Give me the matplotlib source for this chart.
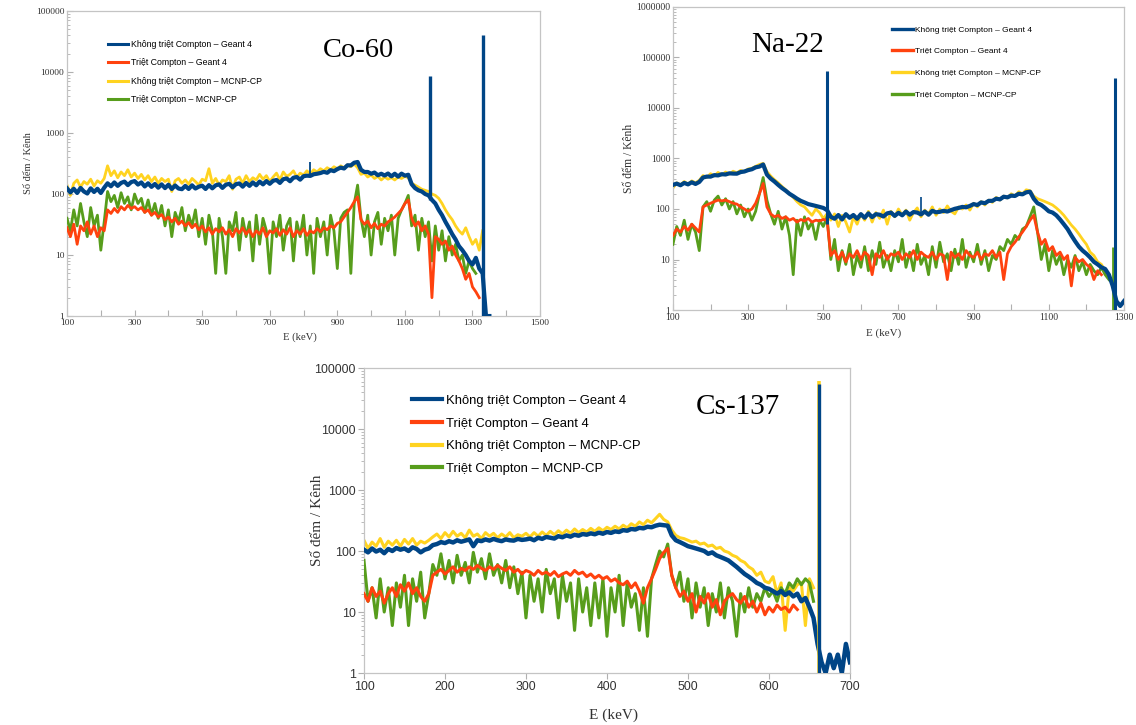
import numpy as np
import matplotlib
matplotlib.use("Agg")
import matplotlib.pyplot as plt
from matplotlib.lines import Line2D
from matplotlib.ticker import FixedLocator, FuncFormatter, NullFormatter, LogLocator

nan = float("nan")

# ---------------- Co-60 (E = 100 ... 1350 keV, step 10) ----------------
co_E = np.arange(100, 1351, 10)
co_blue = [124,106,122,104,126,110,102,124,108,122,
           104,127,150,134,155,136,152,160,140,157,
           163,143,155,133,150,131,146,127,144,125,
           142,121,138,123,120,136,121,139,123,132,
           137,121,140,124,139,144,126,142,147,129,
           145,149,132,152,136,155,139,160,144,163,
           147,165,170,152,175,180,162,185,190,172,
           196,200,198,211,215,221,231,223,246,237,
           256,271,262,296,295,326,335,250,230,230,
           215,225,203,215,201,217,195,215,193,216,
           200,207,145,125,115,110,100,95,80,70,
           55,45,35,28,22,18,14,12,10,8,
           7,9,6,5,1,1]
co_yellow = [140,95,150,170,130,160,145,175,135,165,
             150,180,290,200,240,185,230,200,250,190,
             220,180,210,170,200,160,190,150,180,160,
             175,110,165,180,150,170,145,180,160,140,
             175,165,260,150,180,140,170,160,200,120,
             175,190,150,200,160,185,170,210,175,200,
             160,190,220,170,230,195,210,240,190,220,
             205,240,210,250,230,260,240,270,250,280,
             260,290,270,300,280,310,270,210,220,190,
             205,180,195,170,190,175,185,170,190,180,
             195,185,150,140,130,120,115,110,100,95,
             85,70,55,45,38,30,25,22,28,20,
             15,18,12,25,nan,nan]
co_green = [40,25,55,30,70,35,20,60,30,45,
            12,35,110,75,95,60,105,70,90,55,
            100,70,85,50,80,45,70,40,65,30,
            55,20,50,35,60,25,45,30,55,20,
            40,15,45,25,5,40,20,5,35,25,
            50,12,40,20,35,8,45,15,40,25,
            5,35,20,45,12,30,40,8,35,20,
            45,10,30,5,40,20,35,10,45,25,
            6,40,50,55,5,70,140,40,20,45,
            10,35,50,15,40,25,45,10,40,55,
            70,95,30,45,12,40,20,35,8,30,
            12,25,8,20,10,15,8,10,5,8,
            6,5,nan,nan,nan,nan]
co_red = [28,20,32,15,30,25,35,22,30,20,
          28,25,55,48,58,50,62,55,65,58,
          62,55,60,50,55,45,50,42,46,38,
          42,35,40,32,36,30,34,28,32,26,
          30,24,28,22,27,24,28,22,26,20,
          27,23,28,22,26,20,25,22,28,20,
          25,23,27,21,26,22,28,20,25,22,
          27,21,25,23,27,24,28,26,30,28,
          33,35,42,50,60,75,90,38,32,36,
          28,33,27,32,30,35,38,42,48,55,
          70,80,40,30,35,25,30,22,2,20,
          18,15,17,12,14,10,8,6,4,5,
          3,2.5,2,nan,nan,nan]
co_peak_E = [1173, 1332]
co_peak_base = [80, 1]
co_peak_top = [8500, 40000]
co_small_peak_E = [820]
co_small_peak_base = [195]
co_small_peak_top = [330]

# ---------------- Na-22 (E = 100 ... 1300 keV, step 10) ----------------
na_E = np.arange(100, 1301, 10)
na_blue = [300,318,295,328,307,338,313,343,420,438,
           437,468,462,488,482,508,502,500,538,552,
           588,612,668,692,760,480,400,350,300,260,
           230,200,180,160,145,135,125,120,115,110,
           105,95,70,64,76,62,79,67,76,64,
           79,67,82,69,79,77,71,82,85,73,
           84,75,89,77,87,85,78,89,77,92,
           86,88,92,89,95,101,105,110,108,115,
           125,120,135,130,145,145,160,155,175,170,
           184,181,200,195,214,220,160,130,120,105,
           90,85,75,62,50,40,30,23,18,15,
           13,11,9,8,7,6.5,5,3,1.5,1.2,
           1.5]
na_yellow = [260,330,300,350,310,360,330,370,460,420,
             500,450,530,470,540,490,560,520,580,550,
             620,640,700,760,800,550,450,380,330,280,
             240,200,170,140,120,110,90,75,100,85,
             65,80,60,80,45,75,55,35,70,50,
             80,60,90,55,85,65,95,50,90,70,
             100,75,95,60,85,105,70,95,80,110,
             75,100,85,115,90,80,110,100,120,95,
             130,110,140,120,150,135,170,150,180,165,
             200,180,220,200,240,230,180,160,150,140,
             130,120,105,90,75,60,48,40,32,25,
             20,14,12,9,8,6,5,nan,nan,nan,
             nan]
na_green = [20,45,30,60,25,50,35,15,110,140,
            90,150,180,120,160,100,140,80,120,70,
            100,60,90,200,420,150,80,50,90,40,
            70,30,5,60,30,70,40,55,25,60,
            45,70,10,25,6,15,8,20,5,12,
            7,18,6,15,8,22,7,12,6,15,
            9,25,7,14,6,20,8,12,5,18,
            7,22,9,13,6,16,8,25,7,14,
            9,20,8,15,6,12,10,18,15,25,
            20,30,25,40,45,70,110,35,10,20,
            6,15,8,12,5,10,7,12,6,9,
            5,8,6,5,7,5,4,nan,nan,nan,
            nan]
na_red = [30,40,35,45,38,50,42,35,110,120,
          130,140,150,145,150,140,130,125,110,100,
          90,100,130,200,320,110,80,70,75,65,
          70,60,65,55,62,58,65,55,60,58,
          62,60,12,15,10,14,9,13,11,15,
          10,14,12,5,13,11,15,10,13,12,
          14,10,13,11,15,10,14,12,11,14,
          10,13,12,4,14,11,13,10,15,12,
          11,14,10,13,12,15,11,14,4,13,
          18,22,28,35,45,60,75,35,20,25,
          15,18,12,14,10,12,3,11,9,10,
          8,7,4,6,5,nan,nan,nan,nan,nan,
          nan]
na_peak_E = [511, 1275]
na_peak_base = [50, 1]
na_peak_top = [55000, 40000]
na_small_peak_E = [760]
na_small_peak_base = [85]
na_small_peak_top = [170]
na_green_peak_E = [1272]
na_green_peak_base = [1]
na_green_peak_top = [18]

# ---------------- Cs-137 (E = 100 ... 700 keV, step 5) ----------------
cs_E = np.arange(100, 701, 5)
cs_blue = [105,95,110,98,105,92,108,100,112,105,
           110,100,115,108,95,105,110,125,130,140,
           135,145,138,150,142,148,155,120,150,145,
           155,148,158,150,145,155,150,148,158,152,
           155,160,150,165,158,170,165,160,175,168,
           180,172,185,178,190,185,195,188,200,192,
           205,198,210,205,220,215,230,225,240,235,
           250,245,260,270,265,260,180,150,140,130,
           120,115,110,105,100,90,95,85,80,75,
           70,62,55,48,42,38,34,30,28,25,
           24,22,20,22,19,21,18,20,15,17,
           12,8,3,1.5,1,2,1.2,2,1,3,
           1.5]
cs_yellow = [150,110,140,120,160,115,145,125,150,120,
             155,130,160,125,145,135,150,170,190,160,
             200,170,210,175,195,165,220,175,190,160,
             200,175,195,165,190,170,200,165,185,175,
             195,170,200,175,205,180,210,185,215,190,
             220,195,230,200,225,205,235,210,240,215,
             245,225,255,230,265,240,280,255,300,270,
             320,290,340,400,330,300,220,180,165,160,
             150,140,145,130,135,120,125,110,115,100,
             95,85,80,70,65,55,50,40,45,32,
             30,38,20,30,5,25,22,28,30,6,
             35,25,nan,nan,nan,nan,nan,nan,nan,nan,
             nan]
cs_green = [70,15,25,8,35,10,25,6,30,12,
            40,6,35,15,45,8,20,60,40,90,
            35,70,30,85,40,65,30,95,45,75,
            35,90,40,60,30,70,25,55,20,45,
            8,40,15,35,10,50,20,35,8,40,
            15,30,5,35,10,25,6,30,8,35,
            4,25,10,40,6,30,12,20,5,25,
            4,35,60,100,80,130,40,25,45,15,
            35,8,30,12,25,6,20,10,30,8,
            25,15,4,20,10,25,12,20,15,25,
            18,22,15,25,20,30,25,35,28,35,
            30,15,nan,nan,nan,nan,nan,nan,nan,nan,
            nan]
cs_red = [20,15,25,18,22,14,20,25,18,28,
          22,30,20,25,18,15,20,40,45,50,
          42,48,55,45,52,48,55,50,58,52,
          48,55,50,58,52,48,55,45,50,42,
          48,45,40,48,42,45,40,46,38,42,
          45,40,48,42,45,38,42,36,40,35,
          38,32,35,30,28,32,25,30,22,14,
          25,35,50,75,95,110,40,25,18,22,
          15,20,10,18,14,20,12,16,9,15,
          18,20,16,14,18,12,15,10,14,9,
          12,10,13,11,12,10,13,11,nan,nan,
          nan,nan,nan,nan,nan,nan,nan,nan,nan,nan,
          nan]
cs_peak_E = [662]
cs_peak_base = [1]
cs_peak_top = [55000]
cs_yellow_peak_top = [62000]

legend_labels = ["Không triệt Compton – Geant 4", "Triệt Compton – Geant 4",
                 "Không triệt Compton – MCNP-CP", "Triệt Compton – MCNP-CP"]

BLUE = "#004586"
RED = "#ff420e"
YELLOW = "#ffd320"
GREEN = "#579d1c"
SERIF = ["Liberation Serif", "DejaVu Serif"]
SANS = ["Liberation Sans", "DejaVu Sans"]

fig = plt.figure(figsize=(11.36, 7.25), dpi=100)


def make_axes(rect, xlim, ylim, xmajor, xlabels_at, tick_font, tick_size, tick_dir):
    ax = fig.add_axes(rect)
    ax.set_yscale("log")
    ax.set_xlim(*xlim)
    ax.set_ylim(*ylim)
    for s in ax.spines.values():
        s.set_color("#c4c4c4")
        s.set_linewidth(0.9)
    ax.xaxis.set_major_locator(FixedLocator(xmajor))
    ax.xaxis.set_major_formatter(FuncFormatter(
        lambda v, p: ("%d" % v) if int(round(v)) in xlabels_at else ""))
    ax.yaxis.set_major_locator(LogLocator(base=10, numticks=12))
    ax.yaxis.set_minor_locator(LogLocator(base=10, subs=np.arange(2, 10), numticks=12))
    ax.yaxis.set_minor_formatter(NullFormatter())
    ax.yaxis.set_major_formatter(FuncFormatter(lambda v, p: "%d" % round(v)))
    ax.tick_params(axis="both", which="both", direction=tick_dir, color="#b0b0b0",
                   labelcolor="#333333", labelsize=tick_size, pad=2)
    ax.tick_params(axis="both", which="major", length=4)
    ax.tick_params(axis="both", which="minor", length=2.5)
    for lab in ax.get_xticklabels() + ax.get_yticklabels():
        lab.set_family(tick_font)
    return ax


def draw_series(ax, E, b, r, y, g, lw, blw):
    ax.plot(E, y, color=YELLOW, lw=lw, zorder=2)
    ax.plot(E, g, color=GREEN, lw=lw, zorder=3)
    ax.plot(E, r, color=RED, lw=lw, zorder=4)
    ax.plot(E, b, color=BLUE, lw=blw, zorder=5)


def add_legend(ax, anchor, size, spacing, hl, lw):
    handles = [Line2D([], [], color=c, lw=lw) for c in (BLUE, RED, YELLOW, GREEN)]
    ax.legend(handles, legend_labels, loc="upper left", bbox_to_anchor=anchor,
              frameon=False, prop={"family": SANS, "size": size},
              labelspacing=spacing, handlelength=hl, handletextpad=0.3,
              borderpad=0, borderaxespad=0)


def axis_labels(ax, ysize, ypos, xsize, xpos):
    ax.set_ylabel("Số đếm / Kênh", family=SERIF, fontsize=ysize, color="#333333")
    ax.set_xlabel("E (keV)", family=SERIF, fontsize=xsize, color="#333333")
    ax.yaxis.set_label_coords(*ypos)
    ax.yaxis.label.set_va("center")
    ax.xaxis.set_label_coords(*xpos)
    ax.xaxis.label.set_va("center")


# ---- Co-60 ----
ax1 = make_axes([0.059, 0.5641, 0.4164, 0.4207], (100, 1500), (1, 1e5),
                list(range(100, 1501, 100)), list(range(100, 1501, 200)),
                SERIF, 6.8, "in")
draw_series(ax1, co_E, co_blue, co_red, co_yellow, co_green, 2.0, 3.0)
ax1.vlines(co_peak_E, co_peak_base, co_peak_top, color=BLUE, lw=2.4, zorder=6)
ax1.vlines(co_small_peak_E, co_small_peak_base, co_small_peak_top, color=BLUE, lw=1.3, zorder=6)
add_legend(ax1, (0.087, 0.905), 6.3, 1.07, 2.3, 2.2)
ax1.text(0.617, 0.869, "Co-60", transform=ax1.transAxes, ha="center", va="center",
         family=SERIF, fontsize=20.5)
axis_labels(ax1, 7.5, (-0.082, 0.5), 7.7, (0.493, -0.069))

# ---- Na-22 ----
ax2 = make_axes([0.5924, 0.5724, 0.397, 0.418], (100, 1300), (1, 1e6),
                list(range(100, 1301, 100)), list(range(100, 1301, 200)),
                SERIF, 7.0, "in")
draw_series(ax2, na_E, na_blue, na_red, na_yellow, na_green, 2.0, 3.0)
ax2.vlines(na_green_peak_E, na_green_peak_base, na_green_peak_top, color=GREEN, lw=2.0, zorder=3)
ax2.vlines(na_peak_E, na_peak_base, na_peak_top, color=BLUE, lw=2.2, zorder=6)
ax2.vlines(na_small_peak_E, na_small_peak_base, na_small_peak_top, color=BLUE, lw=1.2, zorder=6)
add_legend(ax2, (0.486, 0.938), 6.0, 1.66, 2.5, 2.4)
ax2.text(0.255, 0.874, "Na-22", transform=ax2.transAxes, ha="center", va="center",
         family=SERIF, fontsize=21)
axis_labels(ax2, 8.4, (-0.098, 0.5), 7.9, (0.468, -0.076))

# ---- Cs-137 ----
ax3 = make_axes([0.3204, 0.0717, 0.4278, 0.4207], (100, 700), (1, 1e5),
                list(range(100, 701, 100)), list(range(100, 701, 100)),
                SANS, 8.9, "out")
draw_series(ax3, cs_E, cs_blue, cs_red, cs_yellow, cs_green, 2.2, 3.2)
ax3.vlines(cs_peak_E, cs_peak_base, cs_yellow_peak_top, color=YELLOW, lw=2.6, zorder=5)
ax3.vlines(cs_peak_E, cs_peak_base, cs_peak_top, color=BLUE, lw=2.4, zorder=6)
add_legend(ax3, (0.099, 0.912), 9.4, 0.80, 2.3, 3.0)
ax3.text(0.77, 0.872, "Cs-137", transform=ax3.transAxes, ha="center", va="center",
         family=SERIF, fontsize=21)
axis_labels(ax3, 11, (-0.095, 0.5), 11, (0.514, -0.138))

fig.savefig("out.png", dpi=100)
